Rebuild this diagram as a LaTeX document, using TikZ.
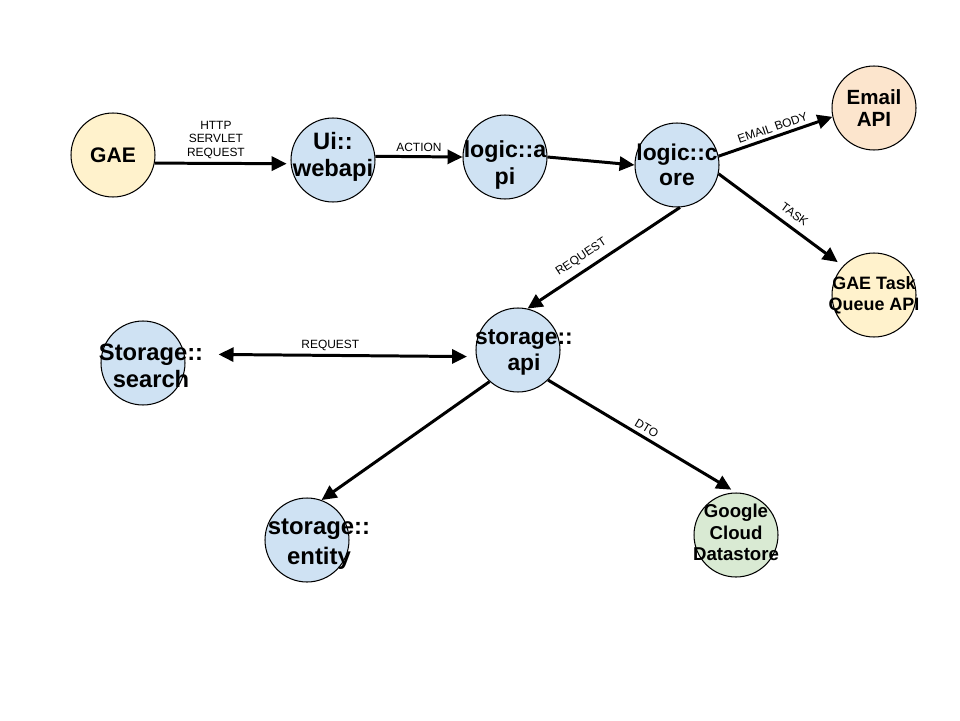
\documentclass[tikz,border=0pt]{standalone}
\usepackage{fontspec}
\setmainfont{Liberation Sans}
\usetikzlibrary{arrows.meta}
\definecolor{bluefill}{HTML}{CFE2F3}
\definecolor{gaefill}{HTML}{FFF2CC}
\definecolor{mailfill}{HTML}{FCE5CD}
\definecolor{storefill}{HTML}{D9EAD3}
\begin{document}
\begin{tikzpicture}
[x=0.02cm,y=-0.02cm,
every label/.style={font=\bfseries\fontsize{12.3}{14}\selectfont,align=center,inner sep=0pt},
lsize/.style 2 args={font=\bfseries\fontsize{#1}{#2}\selectfont},
comp/.style={shape=circle,draw=black,line width=0.6pt,minimum size=1.68cm,inner sep=0pt,fill=bluefill},
flow/.style={line width=1.7pt,-{Triangle[length=8.5pt,width=8pt]}},
both/.style={line width=1.7pt,{Triangle[length=8.5pt,width=8pt]}-{Triangle[length=8.5pt,width=8pt]}},
tag/.style={font=\fontsize{6.8}{7.7}\selectfont,align=center,inner sep=2pt}]

\fill[white] (0,0) rectangle (960,720);

\node[comp,fill=gaefill,label={[lsize={12}{14}]center:GAE}] (gae) at (113,155) {};
\node[comp,label={[lsize={13.5}{15.5},yshift=0.07cm]center:{Ui::\\webapi}}] (webapi) at (333,160) {};
\node[comp,label={[lsize={13.2}{15},yshift=-0.16cm]center:{logic::a\\pi}}] (logicapi) at (505,157) {};
\node[comp,label={[lsize={13}{14.5}]center:{logic::c\\ore}}] (logiccore) at (677,165) {};
\node[comp,fill=mailfill,label={[lsize={11.7}{13}]center:{Email\\API}}] (email) at (874,108) {};
\node[comp,fill=gaefill,label={[lsize={10.2}{11.8}]center:{GAE Task\\Queue API}}] (taskq) at (874,295) {};
\node[comp,label={[lsize={13}{15},xshift=0.12cm,yshift=-0.05cm]center:{storage::\\api}}] (storageapi) at (518,350) {};
\node[comp,label={[lsize={13.5}{15.5},xshift=0.16cm,yshift=-0.06cm]center:{Storage::\\search}}] (search) at (143,363) {};
\node[comp,label={[lsize={13.6}{17},xshift=0.24cm,yshift=-0.08cm]center:{storage::\\entity}}] (entity) at (307,540) {};
\node[comp,fill=storefill,label={[lsize={10.6}{12.2},yshift=0.05cm]center:{Google\\Cloud\\Datastore}}] (datastore) at (736,535) {};

\draw[flow,shorten >=0.08cm] (gae.-11) -- node[tag,above,pos=0.45] {HTTP\\SERVLET\\REQUEST} (webapi.185);
\draw[flow] (webapi.5) -- node[tag,above] {ACTION} (logicapi.180);
\draw[flow] (logicapi.0) -- (logiccore.180);
\draw[flow] (logiccore.12) -- node[tag,above,sloped] {EMAIL BODY} (email.192);
\draw[flow,shorten >=0.13cm] (logiccore.-12) -- node[tag,above,sloped,pos=0.55,inner sep=4pt] {TASK} (taskq.137);
\draw[flow] (logiccore.-86) -- node[tag,above,sloped,pos=0.6,inner sep=3.5pt] {REQUEST} (storageapi.77);
\draw[both,shorten <=0.68cm,shorten >=0.18cm] (search.12) -- node[tag,above] {REQUEST} (storageapi.189);
\draw[flow] (storageapi.228) -- (entity.70);
\draw[flow,shorten >=0.11cm] (storageapi.-45) -- node[tag,above,sloped,pos=0.5] {DTO} (datastore.90);
\end{tikzpicture}
\end{document}
